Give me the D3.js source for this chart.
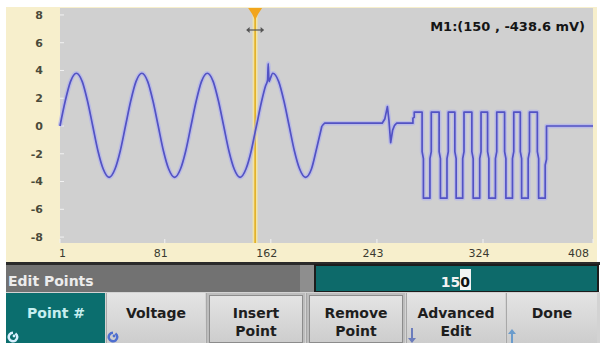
<!DOCTYPE html>
<html><head><meta charset="utf-8">
<script src="https://cdn.jsdelivr.net/npm/d3@7"></script>
<style>
html,body{margin:0;padding:0;background:#fff;overflow:hidden;}
svg{display:block;}
text{font-family:"DejaVu Sans",sans-serif;}
</style></head><body>
<svg id="c" width="600" height="343"></svg>
<script>
// ---------- data ----------
const yTicks = [-8, -6, -4, -2, 0, 2, 4, 6, 8];
const xTicks = [1, 81, 162, 243, 324, 408];
// [point index, volts] read from the sine section (incl. glitch near the 4th peak)
const sinePoints = [
  [1,0],[5,1.8],[9,3.2],[13.5,3.8],[18,3.2],[22,1.8],[26,0],[30,-1.8],[34,-3.1],[38.5,-3.7],[43,-3.1],[47,-1.8],
  [51,0],[55,1.8],[59,3.2],[63.5,3.8],[68,3.2],[72,1.8],[76,0],[80,-1.8],[84,-3.1],[88.5,-3.7],[93,-3.1],[97,-1.8],
  [101,0],[105,1.8],[109,3.2],[113.5,3.8],[118,3.2],[122,1.8],[126,0],[130,-1.8],[134,-3.1],[138.5,-3.7],[143,-3.1],[147,-1.8],[150,-0.44],
  [151,0],[155,1.8],[158,2.9],[159.5,3.3],[160,4.5],[160.6,3.2],[161.5,3.4],[163.5,3.8],[168,3.2],[172,1.8],[176,0],[180,-1.8],[184,-3.1],[188.5,-3.7],[193,-3.1],[197,-1.6],[201,0]
];
// flat section with the small ringing glitch
const glitchPoints = [
  [201,0],[203,0.2],[247,0.2],[249,0.5],[251,1.4],[252.2,0.4],[253.5,-1.2],[255,-0.3],[256.5,0.05],[258,0.2]
];
// square pulse train: edge positions and level after each edge
const pulseEdges  = [271, 278, 284, 291, 297, 303, 309, 316, 322, 328, 334, 341, 347, 353, 359, 366, 372];
const pulseLevels = [1.0, -5.2, 1.0, -5.2, 1.0, -5.2, 1.0, -5.2, 1.0, -5.2, 1.0, -5.2, 1.0, -5.2, 1.0, -5.2, 0];
const lastPoint = 408;
const markerIndex = 150;
const markerLabel = "M1:(150 , -438.6 mV)";
const menuTitle = "Edit Points";
const fieldDigits = ["1", "5", "0"];
const buttonLabels = [["Point #"], ["Voltage"], ["Insert", "Point"], ["Remove", "Point"], ["Advanced", "Edit"], ["Done"]];

// ---------- drawing ----------
const svg = d3.select("#c");
const W = 600, H = 343;
const x = d3.scaleLinear().domain([1, 408]).range([60, 593]);
const y = d3.scaleLinear().domain([-8.5, 8.5]).range([244, 8]);

// frame backgrounds
svg.append("rect").attr("width", W).attr("height", H).attr("fill", "#ffffff");
svg.append("rect").attr("x", 6).attr("y", 7).attr("width", 591).attr("height", 256).attr("fill", "#f7efcc");
svg.append("rect").attr("x", 60).attr("y", 8).attr("width", 533).attr("height", 235).attr("fill", "#d0d0d0");

// axis ticks (faint white marks on plot edges)
const gAx = svg.append("g");
gAx.selectAll("line.yt").data(yTicks).join("line")
  .attr("x1", 60).attr("x2", 64).attr("y1", d => y(d)).attr("y2", d => y(d))
  .attr("stroke", "#f2f2f2").attr("stroke-width", 1);
gAx.selectAll("line.xt").data(xTicks).join("line")
  .attr("x1", d => x(d)).attr("x2", d => x(d)).attr("y1", 243).attr("y2", 239)
  .attr("stroke", "#f2f2f2").attr("stroke-width", 1);

// y labels
svg.append("g").selectAll("text").data(yTicks).join("text")
  .attr("x", 43).attr("y", d => y(d)).attr("dy", "0.36em")
  .attr("text-anchor", "end").attr("font-size", 11).attr("font-weight", "bold")
  .attr("fill", "#4a4a3a").text(d => d);

// x labels
svg.append("g").selectAll("text").data(xTicks).join("text")
  .attr("x", (d, i) => i === 0 ? x(d) - 1 : x(d) - 4)
  .attr("y", 257)
  .attr("text-anchor", (d, i) => i === 0 ? "start" : (i === xTicks.length - 1 ? "end" : "middle"))
  .attr("font-size", 11).attr("fill", "#3a3a30").text(d => d);

// marker
const mx = x(markerIndex);
svg.append("line").attr("x1", mx).attr("x2", mx).attr("y1", 8).attr("y2", 243)
  .attr("stroke", "#f1e3a6").attr("stroke-width", 5);
svg.append("line").attr("x1", mx).attr("x2", mx).attr("y1", 8).attr("y2", 243)
  .attr("stroke", "#e2ae22").attr("stroke-width", 1.6);

// waveform
const line = d3.line().x(d => x(d[0])).y(d => y(d[1]));
const pulsePts = glitchPoints.slice();
let prev = glitchPoints[glitchPoints.length - 1][1];
pulseEdges.forEach((t, i) => {
  const n = pulseLevels[i], mid = (prev + n) / 2, d = (prev - n) * 0.04;
  pulsePts.push([t - 0.5, prev], [t - 0.5, mid + d], [t + 0.5, mid - d], [t + 0.5, n]);
  prev = n;
});
pulsePts.push([lastPoint, prev]);

const sinePath = line.curve(d3.curveMonotoneX)(sinePoints);
const restPath = d3.line().x(d => x(d[0])).y(d => y(d[1]))(pulsePts);
[sinePath, restPath].forEach(p => {
  svg.append("path").attr("d", p).attr("fill", "none").attr("stroke", "#adaff0")
    .attr("stroke-width", 4.5).attr("stroke-opacity", 0.65).attr("stroke-linejoin", "round");
});
[sinePath, restPath].forEach(p => {
  svg.append("path").attr("d", p).attr("fill", "none").attr("stroke", "#5252c4")
    .attr("stroke-width", 1.7).attr("stroke-linejoin", "round");
});

// marker head and drag arrow
svg.append("path").attr("d", `M${mx - 7},8 L${mx + 7},8 L${mx + 3},14 L${mx},20 L${mx - 3},14 Z`)
  .attr("fill", "#f2a51c");
svg.append("line").attr("x1", mx - 8).attr("x2", mx + 8).attr("y1", 30).attr("y2", 30)
  .attr("stroke", "#555").attr("stroke-width", 1.2);
svg.append("path").attr("d", `M${mx - 9},30 l3.5,-3 v6 Z M${mx + 9},30 l-3.5,-3 v6 Z`).attr("fill", "#555");

svg.append("text").attr("x", 585).attr("y", 31).attr("text-anchor", "end")
  .attr("font-size", 13).attr("font-weight", "bold").attr("fill", "#151515").text(markerLabel);

// ---------- soft-key panel ----------
svg.append("rect").attr("x", 6).attr("y", 262).attr("width", 594).attr("height", 3).attr("fill", "#2a2a2a");
svg.append("rect").attr("x", 6).attr("y", 265).attr("width", 309).attr("height", 27).attr("fill", "#727272");
svg.append("rect").attr("x", 300).attr("y", 265).attr("width", 15).attr("height", 27).attr("fill", "#8e8e8e");
svg.append("text").attr("x", 8).attr("y", 286).attr("font-size", 14).attr("font-weight", "bold")
  .attr("fill", "#ececec").text(menuTitle);
svg.append("rect").attr("x", 315).attr("y", 265).attr("width", 283).attr("height", 27)
  .attr("fill", "#0d6a6a").attr("stroke", "#1c1c1c").attr("stroke-width", 2);
svg.append("rect").attr("x", 460).attr("y", 269).attr("width", 11).attr("height", 21).attr("fill", "#f3f3f3");
const ft = svg.append("text").attr("x", 470).attr("y", 287).attr("text-anchor", "end")
  .attr("font-size", 14).attr("font-weight", "bold");
fieldDigits.forEach((c, i) => ft.append("tspan").attr("fill", i === 2 ? "#111" : "#f2f2f2").text(c));

// buttons
svg.append("rect").attr("x", 6).attr("y", 292).attr("width", 594).attr("height", 51).attr("fill", "#d3d3d3");
const bx = [6, 106, 206, 306, 406, 506, 598];
const grad = svg.append("defs").append("linearGradient").attr("id", "bg").attr("x1", 0).attr("x2", 0).attr("y1", 0).attr("y2", 1);
grad.append("stop").attr("offset", 0).attr("stop-color", "#e4e4e4");
grad.append("stop").attr("offset", 1).attr("stop-color", "#cdcdcd");
buttonLabels.forEach((lab, i) => {
  const x0 = bx[i], x1 = bx[i + 1];
  const g = svg.append("g");
  if (i === 0) {
    g.append("rect").attr("x", x0).attr("y", 293).attr("width", x1 - x0 - 1).attr("height", 50).attr("fill", "#0b6e6e");
  } else if (i === 2 || i === 3) {
    g.append("rect").attr("x", x0 + 1).attr("y", 293).attr("width", x1 - x0 - 2).attr("height", 50).attr("fill", "#bdbdbd");
    g.append("rect").attr("x", x0 + 3.5).attr("y", 295.5).attr("width", x1 - x0 - 7).attr("height", 47)
      .attr("fill", "url(#bg)").attr("stroke", "#8c8c8c").attr("stroke-width", 1);
  } else {
    g.append("rect").attr("x", x0 + 1).attr("y", 293).attr("width", x1 - x0 - 2).attr("height", 50).attr("fill", "url(#bg)");
  }
  if (i > 0) g.append("line").attr("x1", x0 + 0.5).attr("x2", x0 + 0.5).attr("y1", 293).attr("y2", 343).attr("stroke", "#a8a8a8");
  const cx = (x0 + x1) / 2;
  lab.forEach((t, j) => {
    g.append("text").attr("x", cx).attr("y", 318 + j * 18).attr("text-anchor", "middle")
      .attr("font-size", 14).attr("font-weight", "bold")
      .attr("fill", i === 0 ? "#c6eef0" : "#1e1e1e").text(t);
  });
});
// knob icons
[[13, "#d8f0ff"], [113, "#4f6fd0"]].forEach(([cx, col]) => {
  svg.append("path").attr("d", d3.arc()({innerRadius: 3, outerRadius: 5.5, startAngle: 0.6, endAngle: 2 * Math.PI}))
    .attr("transform", `translate(${cx},337)`).attr("fill", col);
  svg.append("circle").attr("cx", cx + 1).attr("cy", 336).attr("r", 1.4).attr("fill", col);
});
// arrow icons
svg.append("path").attr("d", "M411,328 v10 h-3 l4,5 l4,-5 h-3 v-10 Z").attr("fill", "#6b7cbc");
svg.append("path").attr("d", "M511,343 v-9 h-3 l4,-5 l4,5 h-3 v9 Z").attr("fill", "#6b9ccc");
</script>
</body></html>
